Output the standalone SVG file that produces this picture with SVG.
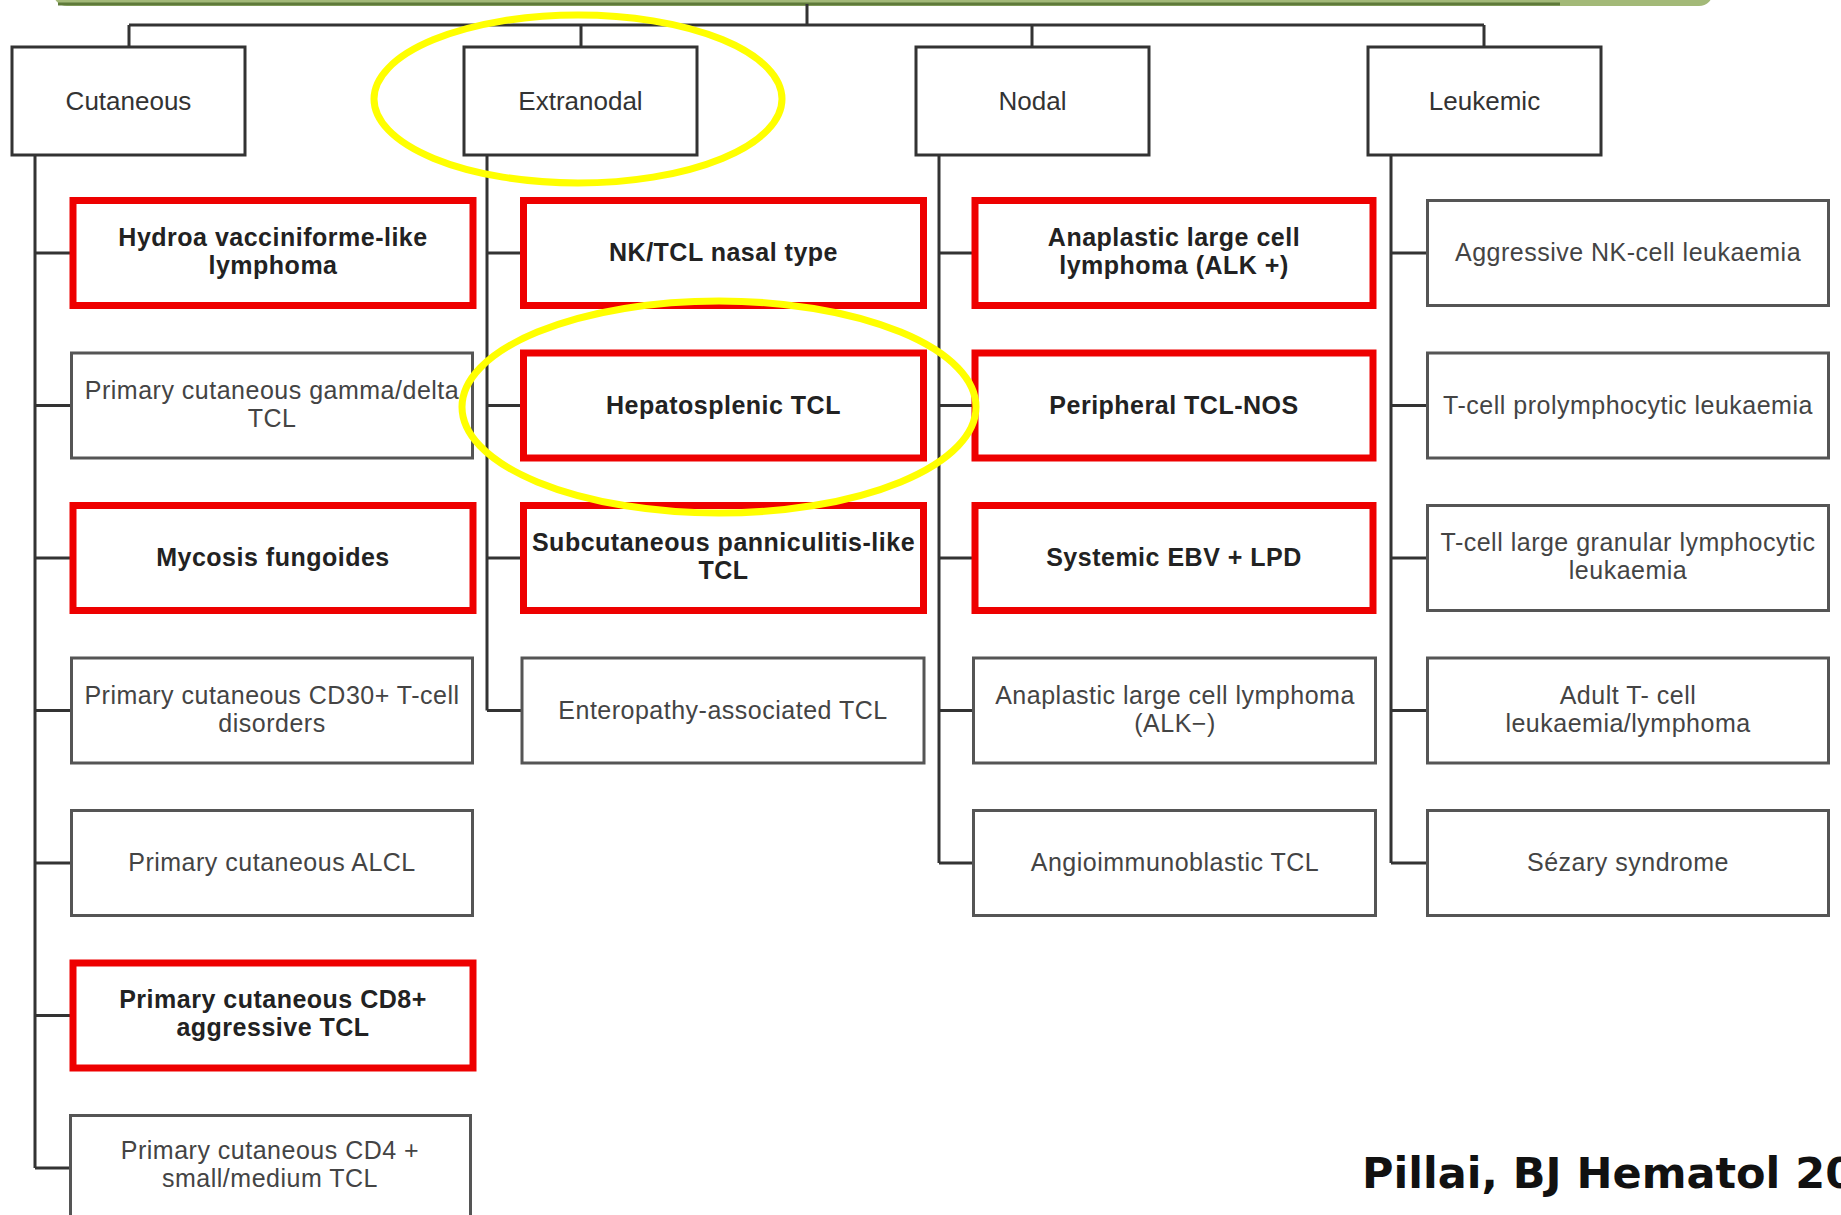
<svg xmlns="http://www.w3.org/2000/svg" width="1841" height="1215" viewBox="0 0 1841 1215">
<style>
.hdr{fill:#fff;stroke:#333;stroke-width:3}
.gbox{fill:#fff;stroke:#555;stroke-width:3}
.rbox{fill:#fff;stroke:#ee0000;stroke-width:7}
.conn{fill:none;stroke:#333;stroke-width:3}
.ht{font-family:"Liberation Sans",Arial,sans-serif;font-size:26px;fill:#333;text-anchor:middle}
.gt{font-family:"Liberation Sans",Arial,sans-serif;font-size:25px;letter-spacing:0.5px;fill:#444;text-anchor:middle}
.rt{font-family:"Liberation Sans",Arial,sans-serif;font-size:25px;letter-spacing:0.5px;font-weight:bold;fill:#222;text-anchor:middle}
.hl{fill:none;stroke:#ffff00;stroke-width:7}
</style>
<rect x="0" y="0" width="1841" height="1215" fill="#ffffff"/>
<g id="title-bar">
<rect x="53" y="-30" width="1660" height="36" rx="14" fill="#a3b978"/>
<line x1="58" y1="4" x2="1560" y2="4" stroke="#5f7a3a" stroke-width="3"/>
</g>
<g id="connectors">
<path class="conn" d="M807 4V25M129 25H1484M129 25V47M581 25V47M1032 25V47M1484 25V47"/>
<path class="conn" d="M35 155V1168M35 253H70M35 405.5H70M35 558H70M35 710.5H70M35 863H70M35 1015.5H70M35 1168H70"/>
<path class="conn" d="M487 155V710.5M487 253H521M487 405.5H521M487 558H521M487 710.5H521"/>
<path class="conn" d="M939 155V863M939 253H972M939 405.5H972M939 558H972M939 710.5H972M939 863H972"/>
<path class="conn" d="M1391 155V863M1391 253H1426M1391 405.5H1426M1391 558H1426M1391 710.5H1426M1391 863H1426"/>
</g>
<g id="cutaneous"><rect class="hdr" x="12" y="47" width="233" height="108"/><text class="ht" x="128.5" y="110">Cutaneous</text></g>
<g id="extranodal"><rect class="hdr" x="464" y="47" width="233" height="108"/><text class="ht" x="580.5" y="110">Extranodal</text></g>
<g id="nodal"><rect class="hdr" x="916" y="47" width="233" height="108"/><text class="ht" x="1032.5" y="110">Nodal</text></g>
<g id="leukemic"><rect class="hdr" x="1368" y="47" width="233" height="108"/><text class="ht" x="1484.5" y="110">Leukemic</text></g>

<g id="c1"><rect class="rbox" x="73" y="200.5" width="400" height="105"/><text class="rt" x="273" y="246">Hydroa vacciniforme-like<tspan x="273" dy="28">lymphoma</tspan></text></g>
<g id="c2"><rect class="gbox" x="71.5" y="353" width="401" height="105"/><text class="gt" x="272" y="398.5">Primary cutaneous gamma/delta<tspan x="272" dy="28">TCL</tspan></text></g>
<g id="c3"><rect class="rbox" x="73" y="505.5" width="400" height="105"/><text class="rt" x="273" y="566">Mycosis fungoides</text></g>
<g id="c4"><rect class="gbox" x="71.5" y="658" width="401" height="105"/><text class="gt" x="272" y="703.5">Primary cutaneous CD30+ T-cell<tspan x="272" dy="28">disorders</tspan></text></g>
<g id="c5"><rect class="gbox" x="71.5" y="810.5" width="401" height="105"/><text class="gt" x="272" y="871">Primary cutaneous ALCL</text></g>
<g id="c6"><rect class="rbox" x="73" y="963" width="400" height="105"/><text class="rt" x="273" y="1007.5">Primary cutaneous CD8+<tspan x="273" dy="28">aggressive TCL</tspan></text></g>
<g id="c7"><rect class="gbox" x="70.5" y="1115.5" width="400" height="105"/><text class="gt" x="270" y="1158.5">Primary cutaneous CD4 +<tspan x="270" dy="28">small/medium TCL</tspan></text></g>

<g id="e1"><rect class="rbox" x="523.5" y="200.5" width="400" height="105"/><text class="rt" x="723.5" y="261">NK/TCL nasal type</text></g>
<g id="e2"><rect class="rbox" x="523.5" y="353" width="400" height="105"/><text class="rt" x="723.5" y="413.5">Hepatosplenic TCL</text></g>
<g id="e3"><rect class="rbox" x="523.5" y="505.5" width="400" height="105"/><text class="rt" x="723.5" y="551">Subcutaneous panniculitis-like<tspan x="723.5" dy="28">TCL</tspan></text></g>
<g id="e4"><rect class="gbox" x="522" y="658" width="402" height="105"/><text class="gt" x="723" y="718.5">Enteropathy-associated TCL</text></g>

<g id="n1"><rect class="rbox" x="975" y="200.5" width="398" height="105"/><text class="rt" x="1174" y="246">Anaplastic large cell<tspan x="1174" dy="28">lymphoma (ALK +)</tspan></text></g>
<g id="n2"><rect class="rbox" x="975" y="353" width="398" height="105"/><text class="rt" x="1174" y="413.5">Peripheral TCL-NOS</text></g>
<g id="n3"><rect class="rbox" x="975" y="505.5" width="398" height="105"/><text class="rt" x="1174" y="566">Systemic EBV + LPD</text></g>
<g id="n4"><rect class="gbox" x="973.5" y="658" width="402" height="105"/><text class="gt" x="1175" y="703.5">Anaplastic large cell lymphoma<tspan x="1175" dy="28">(ALK−)</tspan></text></g>
<g id="n5"><rect class="gbox" x="973.5" y="810.5" width="402" height="105"/><text class="gt" x="1175" y="871">Angioimmunoblastic TCL</text></g>

<g id="l1"><rect class="gbox" x="1427.5" y="200.5" width="401" height="105"/><text class="gt" x="1628" y="261">Aggressive NK-cell leukaemia</text></g>
<g id="l2"><rect class="gbox" x="1427.5" y="353" width="401" height="105"/><text class="gt" x="1628" y="413.5">T-cell prolymphocytic leukaemia</text></g>
<g id="l3"><rect class="gbox" x="1427.5" y="505.5" width="401" height="105"/><text class="gt" x="1628" y="551">T-cell large granular lymphocytic<tspan x="1628" dy="28">leukaemia</tspan></text></g>
<g id="l4"><rect class="gbox" x="1427.5" y="658" width="401" height="105"/><text class="gt" x="1628" y="703.5">Adult T- cell<tspan x="1628" dy="28">leukaemia/lymphoma</tspan></text></g>
<g id="l5"><rect class="gbox" x="1427.5" y="810.5" width="401" height="105"/><text class="gt" x="1628" y="871">Sézary syndrome</text></g>

<g id="highlights">
<ellipse class="hl" cx="578" cy="99" rx="204" ry="84"/>
<ellipse class="hl" cx="719" cy="407" rx="257" ry="106"/>
</g>
<text x="1362" y="1188" font-family="'DejaVu Sans',sans-serif" font-weight="bold" font-size="43" fill="#111">Pillai, BJ Hematol 20</text>
</svg>
